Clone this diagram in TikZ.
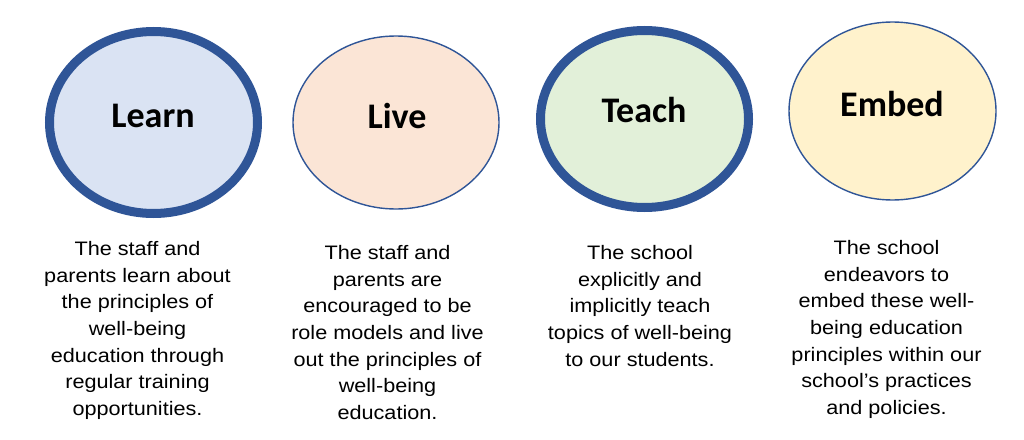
\documentclass[tikz,border=0pt]{standalone}
\usepackage{fontspec}
\setmainfont{Liberation Sans}
\newfontfamily\carlito{Carlito}
\newfontfamily\blurbfont[FakeStretch=1.11]{Liberation Sans}
\usetikzlibrary{shapes.geometric}
\definecolor{rimcolor}{RGB}{47,85,151}
\definecolor{learnfill}{RGB}{218,227,243}
\definecolor{livefill}{RGB}{251,229,214}
\definecolor{teachfill}{RGB}{226,240,217}
\definecolor{embedfill}{RGB}{255,242,204}
\tikzset{
  bubble/.style={ellipse, draw=rimcolor, inner sep=0pt},
  boldrim/.style={line width=9pt},
  thinrim/.style={line width=1.4pt},
  word/.style={anchor=base, inner sep=0pt, font=\carlito\bfseries\fontsize{36}{40}\selectfont},
  blurb/.style={align=center, inner sep=0pt, anchor=north, font=\blurbfont\fontsize{19.5}{26.7}\selectfont},
}

\begin{document}
\begin{tikzpicture}[x=1pt, y=-1pt]
    \useasboundingbox (0,0) rectangle (1024,439);
    % ellipses
    \node[bubble, boldrim, fill=learnfill, minimum width=208, minimum height=182] (learn) at (153.5,122.5) {};
    \node[bubble, thinrim, fill=livefill, minimum width=206, minimum height=173] (live) at (396,122.5) {};
    \node[bubble, boldrim, fill=teachfill, minimum width=208, minimum height=177] (teach) at (644.5,119) {};
    \node[bubble, thinrim, fill=embedfill, minimum width=207, minimum height=178] (embed) at (892.5,111) {};
    % headings
    \node[word] (learnword) at (153,127) {Learn};
    \node[word] (liveword) at (397,128) {Live};
    \node[word] (teachword) at (644,122) {Teach};
    \node[word] (embedword) at (892,116) {Embed};
    % descriptions
    \node[blurb] (learntext) at (137.5,241) {The staff and\\parents learn about\\the principles of\\well-being\\education through\\regular training\\opportunities.};
    \node[blurb] (livetext) at (387.5,245) {The staff and\\parents are\\encouraged to be\\role models and live\\out the principles of\\well-being\\education.};
    \node[blurb] (teachtext) at (640,245) {The school\\explicitly and\\implicitly teach\\topics of well-being\\to our students.};
    \node[blurb] (embedtext) at (886.5,240) {The school\\endeavors to\\embed these well-\\being education\\principles within our\\school’s practices\\and policies.};
  \end{tikzpicture}
\end{document}
